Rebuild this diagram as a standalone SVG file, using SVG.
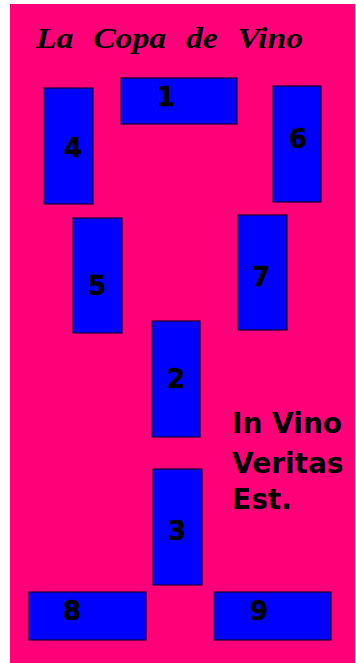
<svg xmlns="http://www.w3.org/2000/svg" width="356" height="663" viewBox="0 0 356 663">
<style>
.tbl{fill:#0000ff;stroke:#1a0030;stroke-width:1.2}
.num{font-family:"DejaVu Sans",sans-serif;font-weight:bold;font-size:26px;fill:#000;stroke:#000;stroke-width:0.6;text-anchor:middle}
.motto{font-family:"DejaVu Sans",sans-serif;font-weight:bold;font-size:28px;fill:#000}
</style>
<rect x="0" y="0" width="356" height="663" fill="#fff"/>
<rect x="10" y="4" width="345" height="659" fill="#ff0078"/>
<text x="36" y="48" font-family="'Liberation Serif','Times New Roman',serif" font-weight="bold" font-style="italic" font-size="30" word-spacing="10" textLength="267" lengthAdjust="spacingAndGlyphs" fill="#000">La Copa de Vino</text>
<g id="t1"><rect class="tbl" x="121" y="78" width="116" height="46"/><text class="num" x="166" y="106">1</text></g>
<g id="t4"><rect class="tbl" x="44" y="88" width="49" height="116"/><text class="num" x="73" y="157">4</text></g>
<g id="t6"><rect class="tbl" x="273" y="86" width="48" height="116"/><text class="num" x="298" y="148">6</text></g>
<g id="t5"><rect class="tbl" x="73" y="218" width="49" height="115"/><text class="num" x="97" y="295">5</text></g>
<g id="t7"><rect class="tbl" x="238" y="215" width="49" height="115"/><text class="num" x="261" y="286">7</text></g>
<g id="t2"><rect class="tbl" x="152" y="321" width="48" height="116"/><text class="num" x="176" y="388">2</text></g>
<g id="t3"><rect class="tbl" x="153" y="469" width="49" height="116"/><text class="num" x="177" y="540">3</text></g>
<g id="t8"><rect class="tbl" x="29" y="592" width="117" height="48"/><text class="num" x="72" y="620">8</text></g>
<g id="t9"><rect class="tbl" x="214" y="592" width="117" height="48"/><text class="num" x="259" y="620">9</text></g>
<g id="connectors"/>
<text class="motto" x="232" y="433">In Vino</text>
<text class="motto" x="232" y="473">Veritas</text>
<text class="motto" x="232" y="509">Est.</text>
</svg>
